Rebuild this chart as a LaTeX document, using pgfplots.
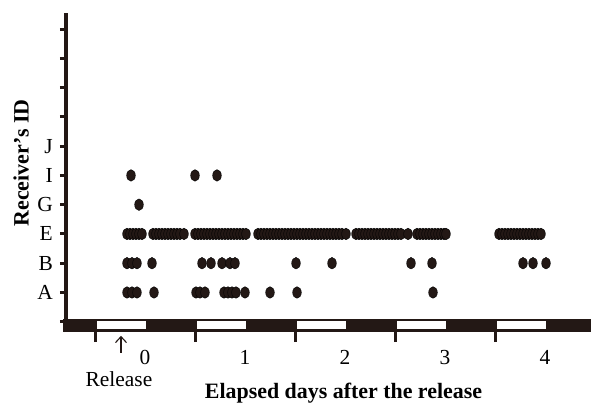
\documentclass[border=0pt]{standalone}
\usepackage{pgfplots}
\pgfplotsset{compat=1.18}
\usetikzlibrary{arrows.meta}
\usepackage{fontspec}
\setmainfont{Liberation Serif}
\definecolor{ink}{HTML}{231815}
\pgfplotsset{dot/.style={only marks, mark=*, mark size=5.8pt, mark options={xscale=0.75, fill=ink, draw=none}}}
\begin{document}
\begin{tikzpicture}[font=\fontsize{21.5}{25}\selectfont]
\useasboundingbox (-66bp,-73bp) rectangle (525bp,332bp);
\begin{axis}[
  at={(0,0)}, anchor=south west,
  scale only axis, width=525bp, height=319bp,
  xmin=-0.79, xmax=4.46, ymin=-0.35, ymax=10.55,
  clip=false,
  axis lines=left,
  axis line style={-, line width=3bp, ink},
  x axis line style={draw=none},
  tick align=outside,
  major tick length=10bp,
  every tick/.append style={line width=3bp, ink},
  xtick={-0.5,0.5,1.5,2.5,3.5},
  xticklabels={0,1,2,3,4},
  xticklabel style={anchor=north, inner sep=0pt, xshift=50bp, yshift=-8bp},
  ytick=\empty,
  extra y ticks={0,1,2,3,4,5,6,7,8,9,10},
  extra y tick labels={,A,B,E,G,I,J,,,,},
  extra y tick style={major tick length=6bp},
  yticklabel style={anchor=east, inner sep=0pt, xshift=-7bp},
  xlabel={\bfseries Elapsed days after the release},
  xlabel style={at={(axis description cs:0.5286,-0.2100)}, anchor=base, font=\fontsize{22}{26}\selectfont},
  ylabel={\bfseries Receiver’s ID},
  ylabel style={at={(axis description cs:-0.0857,0.530)}, anchor=center, rotate=0, font=\fontsize{22}{26}\selectfont},
]
% day/night bar
\fill[ink] (axis cs:-0.82,0.10) rectangle (axis cs:4.46,-0.35);
\fill[white] (axis cs:-0.48,0.01) rectangle (axis cs:0.01,-0.24);
\fill[white] (axis cs:0.52,0.01) rectangle (axis cs:1.01,-0.24);
\fill[white] (axis cs:1.52,0.01) rectangle (axis cs:2.01,-0.24);
\fill[white] (axis cs:2.52,0.01) rectangle (axis cs:3.01,-0.24);
\fill[white] (axis cs:3.52,0.01) rectangle (axis cs:4.01,-0.24);
% A
\addplot[dot] coordinates {(-0.18,1)(-0.13,1)(-0.08,1)(0.09,1)(0.51,1)(0.55,1)(0.60,1)(0.79,1)(0.83,1)(0.87,1)(0.91,1)(1.00,1)(1.25,1)(1.52,1)(2.88,1)};
% B
\addplot[dot] coordinates {(-0.18,2)(-0.13,2)(-0.08,2)(0.07,2)(0.57,2)(0.66,2)(0.77,2)(0.85,2)(0.90,2)(1.51,2)(1.87,2)(2.66,2)(2.87,2)(3.78,2)(3.88,2)(4.01,2)};
% E
\addplot[dot] coordinates {(-0.18,3)(-0.15,3)(-0.12,3)(-0.09,3)(-0.06,3)(-0.03,3)
(0.08,3)(0.11,3)(0.14,3)(0.17,3)(0.20,3)(0.23,3)(0.26,3)(0.29,3)(0.32,3)(0.35,3)(0.39,3)
(0.50,3)(0.53,3)(0.56,3)(0.59,3)(0.62,3)(0.65,3)(0.68,3)(0.71,3)(0.74,3)(0.77,3)(0.80,3)(0.83,3)(0.86,3)(0.89,3)(0.92,3)(0.95,3)(0.98,3)(1.01,3)
(1.13,3)(1.16,3)(1.19,3)(1.22,3)(1.25,3)(1.28,3)(1.31,3)(1.34,3)(1.37,3)(1.40,3)(1.43,3)(1.46,3)(1.49,3)(1.52,3)(1.55,3)(1.58,3)(1.61,3)(1.64,3)(1.67,3)(1.70,3)(1.73,3)(1.76,3)(1.79,3)(1.82,3)(1.85,3)(1.88,3)(1.91,3)(1.94,3)(1.97,3)(2.01,3)
(2.11,3)(2.14,3)(2.17,3)(2.20,3)(2.23,3)(2.26,3)(2.29,3)(2.32,3)(2.35,3)(2.38,3)(2.41,3)(2.44,3)(2.47,3)(2.50,3)(2.53,3)(2.56,3)
(2.63,3)
(2.72,3)(2.75,3)(2.78,3)(2.81,3)(2.84,3)(2.87,3)(2.90,3)(2.93,3)(2.96,3)(2.99,3)(3.01,3)
(3.54,3)(3.57,3)(3.60,3)(3.63,3)(3.66,3)(3.69,3)(3.72,3)(3.75,3)(3.78,3)(3.81,3)(3.84,3)(3.87,3)(3.90,3)(3.93,3)(3.96,3)};
% G
\addplot[dot] coordinates {(-0.06,4)};
% I
\addplot[dot] coordinates {(-0.14,5)(0.50,5)(0.72,5)};
% release marker
\node[font=\fontsize{21.5}{25}\selectfont, anchor=base] at (axis cs:-0.26,-2.22) {Release};
\draw[ink, line width=1.1bp, -{Straight Barb[length=6bp, width=11bp, line width=1.1bp]}] (axis cs:-0.24,-1.06) -- (axis cs:-0.24,-0.48);
\end{axis}
\end{tikzpicture}
\end{document}
